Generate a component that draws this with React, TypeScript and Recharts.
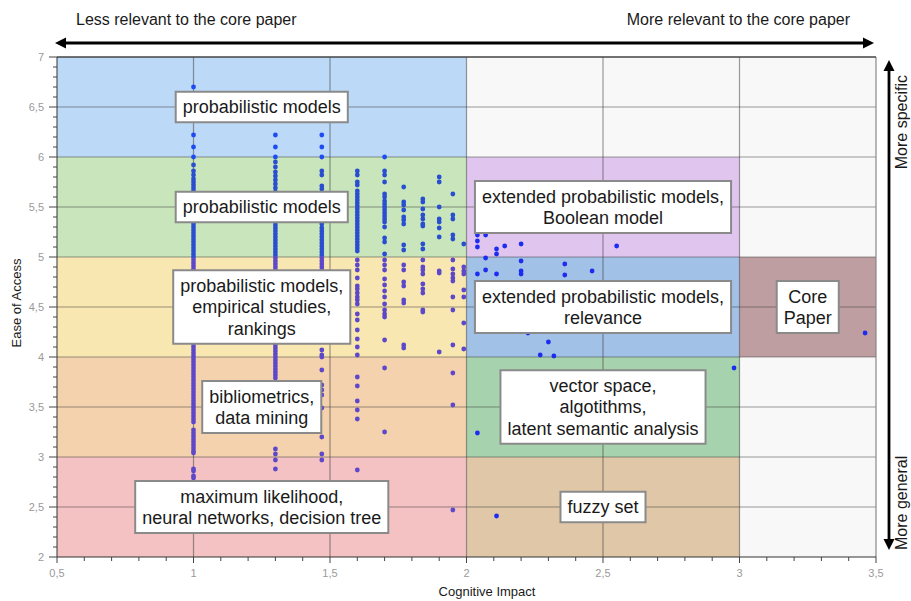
import React from 'react'
import { ScatterChart, Scatter, XAxis, YAxis, ReferenceArea, ReferenceLine } from 'recharts'

const FONT = "'Helvetica Neue', 'Liberation Sans', Arial, sans-serif"

// columns of papers: cognitive impact (x) -> ease of access (y)
const colX = [1, 1.3, 1.47, 1.6, 1.7, 1.77, 1.84, 1.9, 1.95, 1.99]
const colY: number[][] = [
  [6.7, 6.22, 6.1, 6.0, 5.92, 5.86, 5.82, 5.78, 5.75, 5.72, 5.69, 5.66, 5.63, 5.6, 5.57, 5.54, 5.51, 5.48, 5.45, 5.42,
    5.39, 5.36, 5.33, 5.3, 5.27, 5.24, 5.21, 5.18, 5.15, 5.12, 5.09, 5.06, 5.03, 5.0, 4.97, 4.94, 4.91, 4.88, 4.85,
    4.82, 4.79, 4.76, 4.73, 4.7, 4.67, 4.64, 4.61, 4.58, 4.55, 4.52, 4.49, 4.46, 4.43, 4.4, 4.37, 4.34, 4.31, 4.28,
    4.25, 4.22, 4.19, 4.16, 4.13, 4.1, 4.07, 4.04, 4.01, 3.98, 3.95, 3.92, 3.89, 3.86, 3.83, 3.8, 3.77, 3.74, 3.71,
    3.68, 3.65, 3.62, 3.59, 3.56, 3.53, 3.5, 3.47, 3.44, 3.41, 3.38, 3.35, 3.27, 3.24, 3.21, 3.18, 3.15, 3.12, 3.09,
    3.06, 3.04, 2.88, 2.86, 2.81, 2.79],
  [6.22, 6.1, 6.0, 5.95, 5.9, 5.85, 5.81, 5.77, 5.73, 5.69, 5.65, 5.62, 5.59, 5.56, 5.53, 5.5, 5.47, 5.44, 5.41, 5.38,
    5.35, 5.32, 5.29, 5.26, 5.23, 5.2, 5.17, 5.14, 5.11, 5.08, 5.05, 5.02, 4.99, 4.96, 4.93, 4.9, 4.87, 4.84, 4.81,
    4.78, 4.75, 4.72, 4.69, 4.66, 4.63, 4.6, 4.57, 4.54, 4.51, 4.48, 4.45, 4.42, 4.39, 4.36, 4.33, 4.3, 4.27, 4.24,
    4.21, 4.18, 4.15, 4.12, 4.09, 4.06, 4.03, 4.0, 3.97, 3.94, 3.91, 3.88, 3.85, 3.82, 3.79, 3.08, 3.03, 2.97, 2.88],
  [6.22, 6.1, 6.0, 5.86, 5.82, 5.71, 5.68, 5.57, 5.5, 5.41, 5.37, 5.33, 5.29, 5.26, 5.23, 5.2, 5.17, 5.14, 5.11, 5.08,
    5.05, 5.02, 4.99, 4.96, 4.93, 4.9, 4.87, 4.84, 4.8, 4.74, 4.66, 4.58, 4.5, 4.41, 4.3, 4.2, 4.07, 4.02, 4.0, 3.87,
    3.72, 3.67, 3.62, 3.49, 3.2, 3.03, 2.97],
  [5.86, 5.82, 5.75, 5.72, 5.66, 5.63, 5.6, 5.57, 5.54, 5.51, 5.48, 5.45, 5.42, 5.39, 5.36, 5.33, 5.3, 5.27, 5.24,
    5.21, 5.18, 5.15, 5.12, 5.09, 5.06, 4.97, 4.92, 4.87, 4.79, 4.71, 4.68, 4.64, 4.6, 4.57, 4.53, 4.43, 4.37, 4.27,
    4.18, 4.1, 4.02, 3.8, 3.71, 3.56, 3.47, 3.38, 2.87],
  [6.0, 5.86, 5.82, 5.75, 5.63, 5.6, 5.56, 5.53, 5.5, 5.47, 5.44, 5.41, 5.38, 5.35, 5.3, 5.19, 5.15, 5.03, 4.97, 4.92,
    4.87, 4.78, 4.72, 4.66, 4.6, 4.53, 4.47, 4.43, 4.4, 4.17, 3.89, 3.25],
  [5.7, 5.55, 5.52, 5.47, 5.4, 5.37, 5.33, 5.12, 5.07, 4.92, 4.87, 4.75, 4.71, 4.57, 4.54, 4.12, 4.09],
  [5.58, 5.55, 5.48, 5.42, 5.38, 5.33, 5.31, 5.13, 5.08, 4.97, 4.9, 4.87, 4.83, 4.73, 4.68, 4.64, 4.47, 4.45],
  [5.8, 5.75, 5.5, 5.38, 5.35, 5.29, 5.2, 4.86, 4.84, 4.05],
  [5.63, 5.42, 5.38, 5.22, 5.18, 4.97, 4.88, 4.83, 4.79, 4.76, 4.6, 4.47, 4.12, 3.84, 3.52, 2.47],
  [5.13, 4.9, 4.86, 4.83, 4.67, 4.6, 4.34, 4.08],
]

// single papers to the right of 2
const looseX = [2.04, 2.04, 2.04, 2.04, 2.04, 2.07, 2.07, 2.07, 2.11, 2.11, 2.11, 2.11, 2.14, 2.2, 2.2, 2.2, 2.2,
  2.225, 2.27, 2.3, 2.32, 2.36, 2.36, 2.46, 2.55, 2.98, 3.46]
const looseY = [5.22, 5.16, 5.1, 4.83, 3.24, 5.22, 4.99, 4.87, 5.08, 5.03, 4.83, 2.41, 5.11, 5.13, 4.96, 4.86, 4.83,
  4.24, 4.02, 4.15, 4.01, 4.93, 4.82, 4.86, 5.11, 3.89, 4.24]

// topic regions
const regionX = [[0.5, 2], [0.5, 2], [0.5, 2], [0.5, 2], [0.5, 2], [2, 3], [2, 3], [3, 3.5], [2, 3], [2, 3]]
const regionY = [[6, 7], [5, 6], [4, 5], [3, 4], [2, 3], [5, 6], [4, 5], [4, 5], [3, 4], [2, 3]]
const regionText = [
  ['probabilistic models'],
  ['probabilistic models'],
  ['probabilistic models,', 'empirical studies,', 'rankings'],
  ['bibliometrics,', 'data mining'],
  ['maximum likelihood,', 'neural networks, decision tree'],
  ['extended probabilistic models,', 'Boolean model'],
  ['extended probabilistic models,', 'relevance'],
  ['Core', 'Paper'],
  ['vector space,', 'algotithms,', 'latent semantic analysis'],
  ['fuzzy set'],
]
const regionFill = ['#bcd9f7', '#c8e5bb', '#f9e7b2', '#f4d2ad', '#f4c2c2', '#e0c6ef', '#a2c1e6', '#bf9ea2', '#a6d3ad', '#dfc7a7']

const gridX = [1, 1.5, 2, 2.5, 3]
const gridY = [2.5, 3, 3.5, 4, 4.5, 5, 5.5, 6, 6.5]
const xTicks = Array.from({ length: 31 }, (_, i) => Math.round(5 + i) / 10)
const yTicks = Array.from({ length: 51 }, (_, i) => Math.round(20 + i) / 10)

const points = [
  ...colX.flatMap((x, i) => colY[i].map(y => ({ x, y }))),
  ...looseX.map((x, i) => ({ x, y: looseY[i] })),
]

const isMajor = (v: number) => Math.abs(v * 2 - Math.round(v * 2)) < 1e-6
const fmt = (v: number) => String(v).replace('.', ',')

function dotColor(x: number, y: number) {
  if (x >= 2) return '#1c2cf0'
  if (y >= 6) return '#1d4cf2'
  if (y >= 5) return '#2a4ed0'
  return '#5c48c8'
}

let ctx: CanvasRenderingContext2D | null = null
function textWidth(s: string) {
  if (!ctx) ctx = document.createElement('canvas').getContext('2d')
  if (!ctx) return s.length * 9
  ctx.font = `18px ${FONT}`
  return ctx.measureText(s).width
}

function boxLabel(lines: string[]) {
  return (props: any) => {
    const vb = props.viewBox
    if (!vb) return null
    const cx = vb.x + vb.width / 2
    const cy = vb.y + vb.height / 2
    const w = Math.max(...lines.map(textWidth)) + 14
    const h = lines.length * 21.5 + 9
    return (
      <g>
        <rect x={cx - w / 2} y={cy - h / 2} width={w} height={h} fill="#fff" stroke="#8a8a8a" strokeWidth={2} />
        {lines.map((l, i) => (
          <text key={i} x={cx} y={cy + (i - (lines.length - 1) / 2) * 21.5 + 6.3} textAnchor="middle"
            fontSize={18} fill="#1a1a1a" fontFamily={FONT}>{l}</text>
        ))}
      </g>
    )
  }
}

function XTick({ x, y, payload }: any) {
  const v = payload.value as number
  const major = isMajor(v)
  return (
    <g>
      <line x1={x} x2={x} y1={y} y2={y + (major ? 6 : 4)} stroke="#444" />
      {major && <text x={x} y={y + 20} textAnchor="middle" fontSize={11} fill="#9a9a9a" fontFamily={FONT}>{fmt(v)}</text>}
    </g>
  )
}

function YTick({ x, y, payload }: any) {
  const v = payload.value as number
  const major = isMajor(v)
  return (
    <g>
      <line x1={x - (major ? 8 : 4)} x2={x} y1={y} y2={y} stroke="#444" />
      {major && <text x={x - 13} y={y + 4} textAnchor="end" fontSize={11} fill="#9a9a9a" fontFamily={FONT}>{fmt(v)}</text>}
    </g>
  )
}

export default function App() {
  return (
    <div style={{ position: 'absolute', left: 0, top: 0, width: 911, height: 601, background: '#fff' }}>
      <ScatterChart width={911} height={601} margin={{ top: 57, right: 35, bottom: 0, left: 0 }}>
        <XAxis type="number" dataKey="x" domain={[0.5, 3.5]} ticks={xTicks} interval={0} allowDataOverflow
          height={44} tickSize={0} tickMargin={0} tickLine={false} axisLine={{ stroke: '#333' }} tick={<XTick />} />
        <YAxis type="number" dataKey="y" domain={[2, 7]} ticks={yTicks} interval={0} allowDataOverflow
          width={57} tickSize={0} tickMargin={0} tickLine={false} axisLine={{ stroke: '#333' }} tick={<YTick />} />
        <ReferenceArea x1={0.5} x2={3.5} y1={2} y2={7} fill="#f8f8f8" fillOpacity={1} stroke="none" zIndex={-60} />
        {regionX.map((rx, i) => (
          <ReferenceArea key={'r' + i} x1={rx[0]} x2={rx[1]} y1={regionY[i][0]} y2={regionY[i][1]}
            fill={regionFill[i]} fillOpacity={1} stroke="none" zIndex={-40} />
        ))}
        {gridX.map(v => <ReferenceLine key={'gx' + v} x={v} stroke="#3a3a3a" strokeOpacity={0.5} strokeWidth={1.2} zIndex={-20} />)}
        {gridY.map(v => <ReferenceLine key={'gy' + v} y={v} stroke="#3a3a3a" strokeOpacity={0.5} strokeWidth={1.2} zIndex={-20} />)}
        <ReferenceLine x={3.5} stroke="#888" strokeWidth={1.2} zIndex={-20} />
        <ReferenceLine y={7} stroke="#444" strokeWidth={1.5} zIndex={-20} />
        <Scatter data={points} isAnimationActive={false}
          shape={(p: any) => <circle cx={p.cx} cy={p.cy} r={2.4} fill={dotColor(p.payload.x, p.payload.y)} />} />
        {regionX.map((rx, i) => (
          <ReferenceArea key={'l' + i} x1={rx[0]} x2={rx[1]} y1={regionY[i][0]} y2={regionY[i][1]}
            fill="none" fillOpacity={0} stroke="none" zIndex={2100} label={boxLabel(regionText[i])} />
        ))}
      </ScatterChart>
      <svg width={911} height={601} style={{ position: 'absolute', left: 0, top: 0, pointerEvents: 'none' }}>
        <text x={76} y={24.5} fontSize={16} fill="#1a1a1a" fontFamily={FONT}>Less relevant to the core paper</text>
        <text x={850} y={24.5} fontSize={16} fill="#1a1a1a" fontFamily={FONT} textAnchor="end">More relevant to the core paper</text>
        <line x1={62} x2={866} y1={43} y2={43} stroke="#000" strokeWidth={2.8} />
        <polygon points="55,43 66,37.5 66,48.5" fill="#000" />
        <polygon points="874,43 863,37.5 863,48.5" fill="#000" />
        <line x1={889} x2={889} y1={67} y2={543} stroke="#000" strokeWidth={2.8} />
        <polygon points="889,60 883.5,71 894.5,71" fill="#000" />
        <polygon points="889,550 883.5,539 894.5,539" fill="#000" />
        <text transform="translate(907,75) rotate(-90)" fontSize={16} fill="#1a1a1a" fontFamily={FONT} textAnchor="end">More specific</text>
        <text transform="translate(907,550) rotate(-90)" fontSize={16} fill="#1a1a1a" fontFamily={FONT}>More general</text>
        <text transform="translate(21,303) rotate(-90)" fontSize={13} fill="#1a1a1a" fontFamily={FONT} textAnchor="middle">Ease of Access</text>
        <text x={487} y={596} fontSize={13} fill="#1a1a1a" fontFamily={FONT} textAnchor="middle">Cognitive Impact</text>
      </svg>
    </div>
  )
}
